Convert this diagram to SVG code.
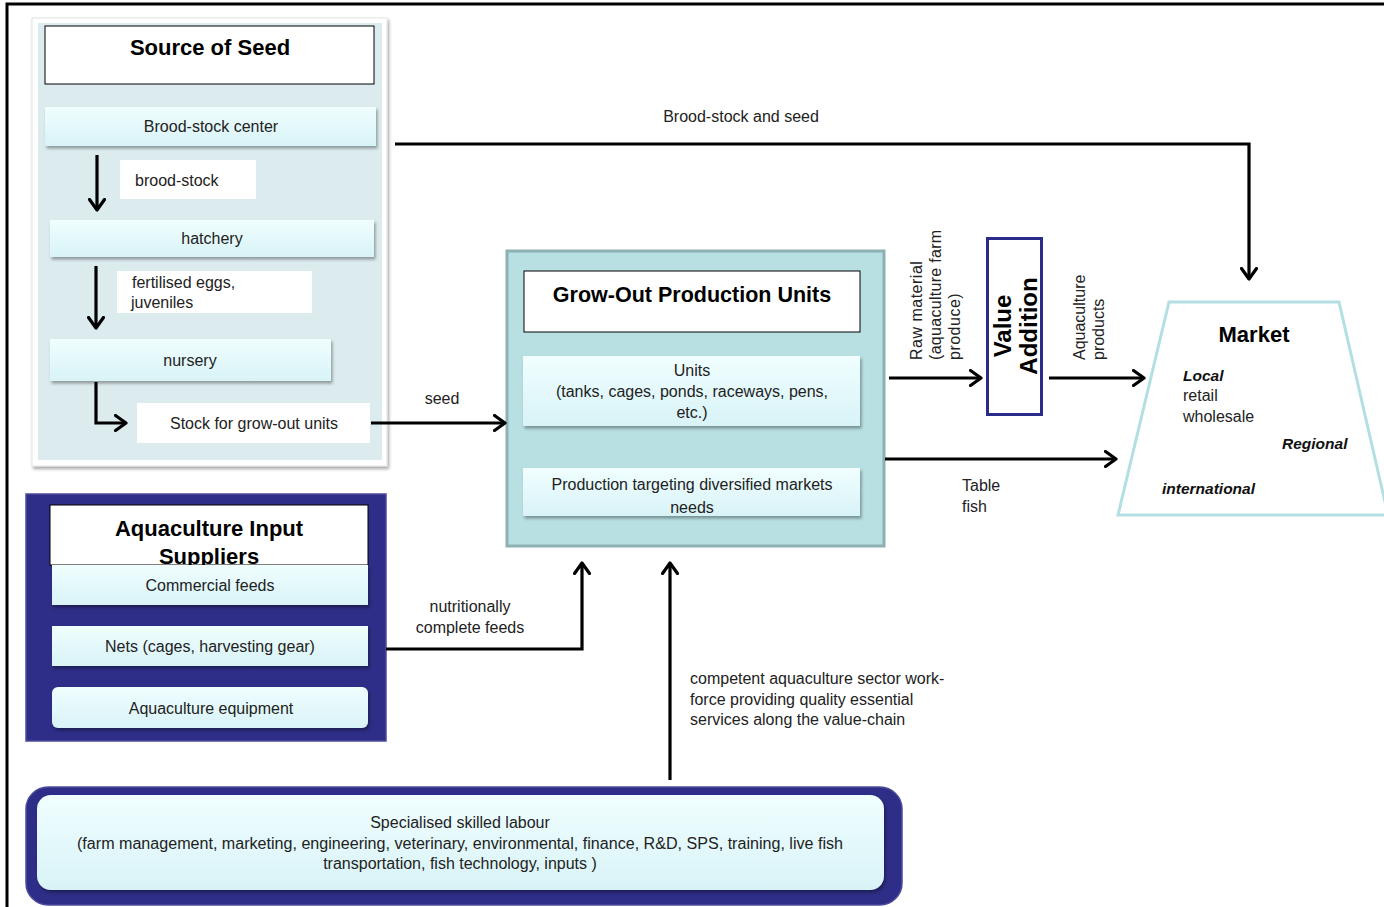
<svg xmlns="http://www.w3.org/2000/svg" width="1384" height="907" viewBox="0 0 1384 907">
<defs>
<linearGradient id="lb" x1="0" y1="0" x2="0" y2="1">
<stop offset="0" stop-color="#f0feff"/>
<stop offset="1" stop-color="#d8f3f7"/>
</linearGradient>
<filter id="sh" x="-5%" y="-10%" width="110%" height="130%">
<feDropShadow dx="1.5" dy="2.5" stdDeviation="1.5" flood-color="#000" flood-opacity="0.35"/>
</filter>
<marker id="ah" viewBox="0 0 14 18" refX="12" refY="9" markerWidth="14" markerHeight="18" markerUnits="userSpaceOnUse" orient="auto">
<path d="M1.5,1.5 L12,9 L1.5,16.5" fill="none" stroke="#000" stroke-width="3.2" stroke-linecap="round" stroke-linejoin="round"/>
</marker>
<style>
text{font-family:"Liberation Sans",Arial,sans-serif;fill:#222;}
.t{font-size:16px;}
.c{text-anchor:middle;}
.b{font-weight:bold;fill:#000;}
.bi{font-weight:bold;font-style:italic;font-size:15.5px;fill:#111;}
.lb{fill:url(#lb);filter:url(#sh);}
.wb{fill:#fff;}
.tb{fill:#fff;stroke:#000;stroke-width:1;}
.ar{fill:none;stroke:#000;stroke-width:3.2;marker-end:url(#ah);}
</style>
</defs>
<rect x="0" y="0" width="1384" height="907" fill="#fff"/>
<g id="frame">
<path d="M7,907 V4 H1384" fill="none" stroke="#000" stroke-width="3"/>
</g>

<g id="source-of-seed">
<rect x="32" y="18" width="355" height="448" fill="#fff" stroke="#e2e2e2" stroke-width="1" filter="url(#sh)"/>
<rect x="38" y="23" width="344" height="437" fill="#dbebee"/>
<rect class="tb" x="45" y="26" width="329" height="58"/>
<text class="b c" x="210" y="55" font-size="22">Source of Seed</text>
</g>
<g id="brood-stock-center">
<rect class="lb" x="45" y="107" width="331" height="39"/>
<text class="t c" x="211" y="132">Brood-stock center</text>
</g>
<g id="brood-stock-label">
<rect class="wb" x="120" y="160" width="136" height="39"/>
<text class="t" x="135" y="186">brood-stock</text>
</g>
<g id="hatchery">
<rect class="lb" x="50" y="220" width="324" height="37"/>
<text class="t c" x="212" y="244">hatchery</text>
</g>
<g id="eggs-label">
<rect class="wb" x="117" y="271" width="195" height="42"/>
<text class="t" x="132" y="288">fertilised eggs,</text>
<text class="t" x="131" y="308">juveniles</text>
</g>
<g id="nursery">
<rect class="lb" x="50" y="339" width="281" height="42"/>
<text class="t c" x="190" y="366">nursery</text>
</g>
<g id="stock-grow-out">
<rect class="wb" x="137" y="403" width="233" height="40"/>
<text class="t c" x="254" y="429">Stock for grow-out units</text>
</g>

<g id="grow-out">
<rect x="507" y="251" width="377" height="295" fill="#b8dfe2" stroke="#8cb0b4" stroke-width="3"/>
<rect class="tb" x="524" y="271" width="336" height="61"/>
<text class="b c" x="692" y="302" font-size="21.5">Grow-Out Production Units</text>
</g>
<g id="units">
<rect class="lb" x="523" y="356" width="337" height="70"/>
<text class="t c" x="692" y="376">Units</text>
<text class="t c" x="692" y="397">(tanks, cages, ponds, raceways, pens,</text>
<text class="t c" x="692" y="418">etc.)</text>
</g>
<g id="production">
<rect class="lb" x="523" y="468" width="337" height="48"/>
<text class="t c" x="692" y="490">Production targeting diversified markets</text>
<text class="t c" x="692" y="513">needs</text>
</g>

<g id="value-addition">
<rect x="987.5" y="238.5" width="54" height="176" fill="#fff" stroke="#2b2b8c" stroke-width="3"/>
<text class="b c" font-size="24" transform="translate(1011,326) rotate(-90)">Value</text>
<text class="b c" font-size="24" transform="translate(1037,326) rotate(-90)">Addition</text>
</g>

<g id="market">
<polygon points="1169,302 1339,302 1388,515 1118,515" fill="#fff" stroke="#b3dfe3" stroke-width="3"/>
<text class="b c" x="1254" y="342" font-size="22">Market</text>
<text class="bi" x="1183" y="381">Local</text>
<text class="t" x="1183" y="401">retail</text>
<text class="t" x="1183" y="422">wholesale</text>
<text class="bi" x="1282" y="449">Regional</text>
<text class="bi" x="1162" y="494">international</text>
</g>

<g id="input-suppliers">
<rect x="26" y="494" width="360" height="247" fill="#2e2d87" stroke="#4b4b9c" stroke-width="1.5"/>
<rect class="tb" x="50" y="505" width="318" height="60"/>
<text class="b c" x="209" y="536" font-size="22">Aquaculture Input</text>
<text class="b c" x="209" y="564" font-size="22">Suppliers</text>
</g>
<g id="commercial-feeds">
<rect class="lb" x="52" y="565" width="316" height="40"/>
<text class="t c" x="210" y="591">Commercial feeds</text>
</g>
<g id="nets">
<rect class="lb" x="52" y="626" width="316" height="40"/>
<text class="t c" x="210" y="652">Nets (cages, harvesting gear)</text>
</g>
<g id="equipment">
<rect class="lb" x="52" y="687" width="316" height="41" rx="6"/>
<text class="t c" x="211" y="714">Aquaculture equipment</text>
</g>

<g id="skilled-labour">
<rect x="26" y="787" width="876" height="118" rx="22" fill="#2e2d87" stroke="#4b4b9c" stroke-width="1.5"/>
<rect class="lb" x="37" y="795" width="847" height="95" rx="14"/>
<text class="t c" x="460" y="828">Specialised skilled labour</text>
<text class="t c" x="460" y="849" textLength="766" lengthAdjust="spacingAndGlyphs">(farm management,  marketing, engineering, veterinary, environmental,  finance, R&amp;D, SPS, training, live fish</text>
<text class="t c" x="460" y="869">transportation, fish technology, inputs )</text>
</g>

<g id="connectors">
<path class="ar" d="M97,155 V210"/>
<path class="ar" d="M96,266 V328"/>
<path class="ar" d="M96,382 V423 H126"/>
<path class="ar" d="M371,423 H505"/>
<path class="ar" d="M395,144 H1249 V279"/>
<path class="ar" d="M889,378 H981"/>
<path class="ar" d="M1049,378 H1144"/>
<path class="ar" d="M885,459 H1116"/>
<path class="ar" d="M386,649 H582 V563"/>
<path class="ar" d="M670,780 V563"/>
</g>

<g id="connector-labels">
<text class="t c" x="741" y="122">Brood-stock and seed</text>
<text class="t c" x="442" y="404">seed</text>
<text class="t" transform="translate(922,360) rotate(-90)" letter-spacing="0.5">Raw material</text>
<text class="t" transform="translate(941,360) rotate(-90)" letter-spacing="0.3">(aquaculture farm</text>
<text class="t" transform="translate(960,360) rotate(-90)" letter-spacing="0.5">produce)</text>
<text class="t" transform="translate(1085,360) rotate(-90)">Aquaculture</text>
<text class="t" transform="translate(1104,360) rotate(-90)">products</text>
<text class="t" x="962" y="491">Table</text>
<text class="t" x="962" y="512">fish</text>
<text class="t c" x="470" y="612">nutritionally</text>
<text class="t c" x="470" y="633">complete feeds</text>
<text class="t" x="690" y="684">competent aquaculture sector work-</text>
<text class="t" x="690" y="705">force providing quality essential</text>
<text class="t" x="690" y="725">services along the value-chain</text>
</g>
</svg>
